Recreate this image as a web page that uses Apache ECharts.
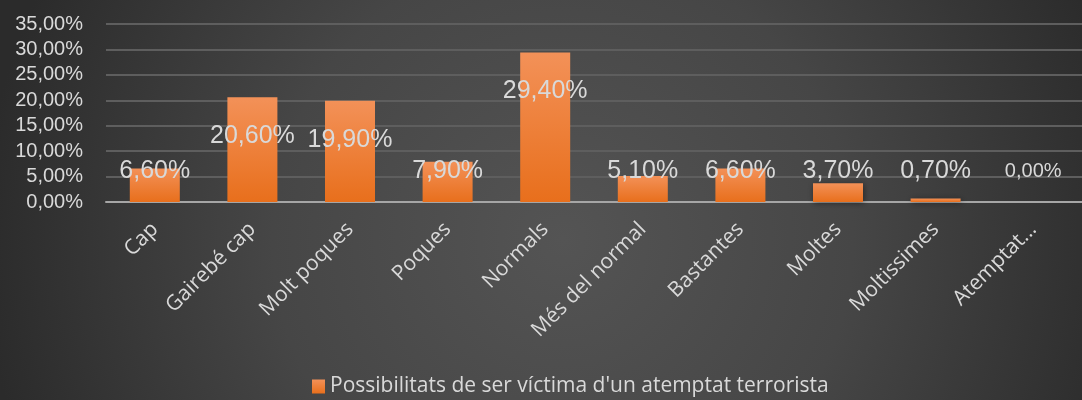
<!DOCTYPE html>
<html>
<head>
<meta charset="utf-8">
<script src="https://cdn.jsdelivr.net/npm/echarts@6/dist/echarts.min.js"></script>
<style>
html, body { margin: 0; padding: 0; }
#chart { width: 1082px; height: 400px; }
</style>
</head>
<body>
<div id="chart"></div>
<script>
// dades
var categories = ['Cap', 'Gairebé cap', 'Molt poques', 'Poques', 'Normals', 'Més del normal', 'Bastantes', 'Moltes', 'Moltissimes', 'Atemptat terrorista'];
var values = [6.6, 20.6, 19.9, 7.9, 29.4, 5.1, 6.6, 3.7, 0.7, 0.0];
var seriesName = "Possibilitats de ser víctima d'un atemptat terrorista";
var yTicks = [0, 5, 10, 15, 20, 25, 30, 35];

function pct(v) {
	return v.toFixed(2).replace('.', ',') + '%';
}

var chart = echarts.init(document.getElementById('chart'));

var barData = values.map(function (v) {
	var item = { value: v };
	if (v === 0) {
		item.label = { fontSize: 20 };
	}
	return item;
});

var option = {
	backgroundColor: {
		type: 'radial', x: 0.52, y: 0.6, r: 1.45,
		colorStops: [
			{ offset: 0, color: '#545454' },
			{ offset: 0.5, color: '#464646' },
			{ offset: 1, color: '#2b2b2b' }
		]
	},
	grid: { left: 106, top: 24, width: 987, height: 178, containLabel: false },
	legend: {
		bottom: -2,
		left: 307,
		itemWidth: 13,
		itemHeight: 14,
		itemGap: 5,
		icon: 'rect',
		textStyle: { color: '#d9d9d9', fontFamily: 'Open Sans', fontSize: 21 },
		data: [seriesName]
	},
	xAxis: {
		type: 'category',
		data: categories,
		axisTick: { show: false },
		axisLine: { lineStyle: { color: '#a6a6a6', width: 2 } },
		axisLabel: {
			interval: 0,
			rotate: 45,
			margin: 24,
			color: '#d9d9d9',
			fontFamily: 'Open Sans',
			fontSize: 21,
			formatter: function (v) {
				return v.length > 16 ? 'Atemptat...' : v;
			}
		}
	},
	yAxis: {
		type: 'value',
		min: yTicks[0],
		max: yTicks[yTicks.length - 1],
		interval: 5,
		axisLine: { show: false },
		axisTick: { show: false },
		splitLine: { lineStyle: { color: '#5e5e5e', width: 2 } },
		axisLabel: {
			margin: 23,
			color: '#d9d9d9',
			fontFamily: 'Liberation Sans',
			fontSize: 20,
			formatter: pct
		}
	},
	series: [{
		name: seriesName,
		type: 'bar',
		barWidth: 50,
		data: barData,
		itemStyle: {
			color: {
				type: 'linear', x: 0, y: 0, x2: 0, y2: 1,
				colorStops: [
					{ offset: 0, color: '#f39158' },
					{ offset: 1, color: '#e86f1c' }
				]
			},
			shadowColor: 'rgba(0,0,0,0.45)',
			shadowBlur: 6,
			shadowOffsetX: 1,
			shadowOffsetY: 1
		},
		label: {
			show: true,
			position: 'insideTop',
			color: '#d9d9d9',
			fontFamily: 'Liberation Sans',
			fontSize: 25,
			formatter: function (p) { return pct(p.value); }
		},
		labelLayout: function (p) {
			// dins del cap de la barra, però no més avall de la línia de base
			var y = Math.min(p.rect.y + 39, 171);
			return { x: p.rect.x + p.rect.width / 2, y: y, align: 'center', verticalAlign: 'middle' };
		}
	}]
};

chart.setOption(option);
</script>
</body>
</html>
